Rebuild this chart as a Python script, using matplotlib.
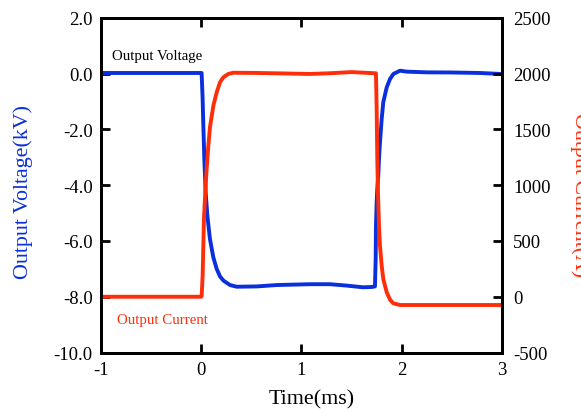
import matplotlib
matplotlib.use("Agg")
import matplotlib.pyplot as plt
from matplotlib.ticker import FormatStrFormatter

plt.rcParams['font.family'] = ['Liberation Serif', 'DejaVu Serif']
plt.rcParams['axes.unicode_minus'] = False

# output voltage (kV), left axis
t_volt = [-1.0, -0.5, 0.0, 0.004, 0.014, 0.021, 0.031, 0.044, 0.061, 0.087,
          0.121, 0.154, 0.187, 0.221, 0.287, 0.353, 0.553, 0.752, 1.085,
          1.284, 1.45, 1.613, 1.70, 1.733, 1.740, 1.743, 1.750, 1.756, 1.766,
          1.773, 1.783, 1.800, 1.816, 1.850, 1.883, 1.916, 1.983, 2.049,
          2.249, 2.5, 2.781, 3.0]
volt = [0.027, 0.027, 0.027, 0.027, -0.906, -1.86, -3.06, -4.25, -5.09, -5.93,
        -6.59, -7.00, -7.27, -7.42, -7.58, -7.64, -7.63, -7.58, -7.55,
        -7.55, -7.60, -7.66, -7.65, -7.63, -6.65, -5.45, -4.61, -4.13, -3.66,
        -3.06, -2.46, -1.62, -1.02, -0.49, -0.19, -0.01, 0.11, 0.075,
        0.05, 0.045, 0.027, -0.01]

# output current (A), right axis
t_curr = [-1.0, -0.5, 0.0, 0.004, 0.014, 0.021, 0.027, 0.037, 0.054, 0.071,
          0.087, 0.121, 0.154, 0.187, 0.221, 0.270, 0.320, 0.553, 0.80,
          1.085, 1.30, 1.50, 1.65, 1.743, 1.750, 1.756, 1.763, 1.773, 1.783,
          1.800, 1.816, 1.850, 1.883, 1.916, 1.983, 2.3, 2.781, 3.0]
curr = [0, 0, 0, 4, 189, 458, 697, 877, 1146, 1355,
        1520, 1714, 1833, 1923, 1968, 1998, 2009, 2007, 2003,
        1998, 2005, 2015, 2008, 2004, 1684, 1235, 937, 638, 458,
        279, 159, 40, -26, -59, -74, -74, -74, -74]

blue = '#0b2fdc'
red = '#ff2e0a'

fig = plt.figure(figsize=(5.81, 4.10), dpi=100)
ax = fig.add_axes([0.1738, 0.1378, 0.6902, 0.8159])
ax2 = ax.twinx()

ax.plot(t_volt, volt, color=blue, lw=2.8, solid_joinstyle='round')
ax2.plot(t_curr, curr, color=red, lw=2.8, solid_joinstyle='round')

ax.set_xlim(-1, 3)
ax.set_ylim(-10, 2)
ax2.set_ylim(-500, 2500)
ax.set_xticks([-1, 0, 1, 2, 3])
ax.set_yticks([2, 0, -2, -4, -6, -8, -10])
ax2.set_yticks([-500, 0, 500, 1000, 1500, 2000, 2500])
ax.yaxis.set_major_formatter(FormatStrFormatter('%.1f'))

for a in (ax, ax2):
    for s in a.spines.values():
        s.set_linewidth(2.1)
ax.tick_params(axis='both', direction='in', length=6.5, width=2.0,
               labelsize=13.5, top=True, pad=6)
ax2.tick_params(axis='y', direction='in', length=6.5, width=2.0,
                labelsize=13.5, pad=8)

ax.set_xlabel('Time(ms)', fontsize=15.8, va='center')
ax.xaxis.set_label_coords(0.526, -0.139)
ax.set_ylabel('Output Voltage(kV)', fontsize=15.8, color=blue,
              va='center', ha='center')
ax.yaxis.set_label_coords(-0.1945, 0.484)
ax2.set_ylabel('Output Current(A)', fontsize=15.8, color=red,
               rotation=-90, va='center', ha='center')
ax2.yaxis.set_label_coords(1.1945, 0.474)

ax.text(-0.893, 0.648, 'Output Voltage', fontsize=10.7, color='black',
        ha='left', va='center')
ax.text(-0.843, -8.80, 'Output Current', fontsize=10.7, color=red,
        ha='left', va='center')

fig.savefig('out.png', dpi=100)
